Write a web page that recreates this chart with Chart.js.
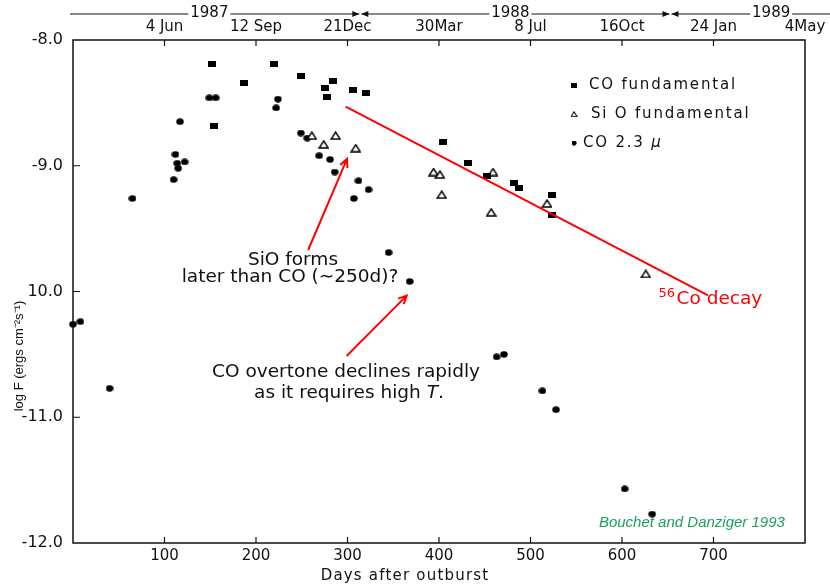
<!DOCTYPE html>
<html>
<head>
<meta charset="utf-8">
<script src="https://cdn.jsdelivr.net/npm/chart.js@4.4.0/dist/chart.umd.min.js"></script>
<style>
  html, body { margin: 0; padding: 0; background: #fff; }
  #wrap { width: 830px; height: 585px; }
</style>
</head>
<body>
<div id="wrap"><canvas id="chart" width="830" height="585"></canvas></div>
<script>
// ---- data (days after outburst, log F) ----
const coFundDays = [152, 154, 187, 220, 249, 275, 278, 284, 306, 320, 404, 432, 453, 482, 487, 524, 524];
const coFundLogF = [-8.19, -8.68, -8.34, -8.19, -8.29, -8.38, -8.45, -8.33, -8.40, -8.42, -8.81, -8.98, -9.08, -9.14, -9.18, -9.23, -9.39];

const sioDays = [261, 274, 287, 309, 394, 401, 403, 457, 459, 518, 626];
const sioLogF = [-8.76, -8.83, -8.76, -8.86, -9.05, -9.07, -9.23, -9.37, -9.05, -9.30, -9.86];

const co23Days = [0, 8, 40, 65, 110, 112, 114, 115, 122, 117, 149, 156, 224, 222, 249, 256, 269, 281, 286, 312, 307, 323, 345, 368, 463, 471, 513, 528, 603, 633];
const co23LogF = [-10.26, -10.24, -10.77, -9.26, -9.11, -8.91, -8.98, -9.02, -8.97, -8.65, -8.46, -8.46, -8.47, -8.54, -8.74, -8.78, -8.92, -8.95, -9.05, -9.12, -9.26, -9.19, -9.69, -9.92, -10.52, -10.50, -10.79, -10.94, -11.57, -11.77];

const decayDays = [298, 694];
const decayLogF = [-8.53, -10.03];

// ---- axes ----
const xTickDays = [100, 200, 300, 400, 500, 600, 700];
const topTickDays = [100, 200, 300, 400, 500, 600, 700, 800];
const topTickLabels = ["4 Jun", "12 Sep", "21Dec", "30Mar", "8 Jul", "16Oct", "24 Jan", "4May"];
const yearLabels = ["1987", "1988", "1989"];
const yearLabelDays = [149, 478, 763];
const yearBreakDays = [314, 653];
const yTickValues = [-8, -9, -10, -11, -12];
const yTickLabels = ["-8.0", "-9.0", "10.0", "-11.0", "-12.0"];

const FONT = '"DejaVu Sans"';
const ANNO_FONT = '"DejaVu Sans"';

function pts(xs, ys) {
  return xs.map((x, i) => ({ x: x, y: ys[i] }));
}

function marker(w, h, draw) {
  const c = document.createElement("canvas");
  c.width = w;
  c.height = h;
  draw(c.getContext("2d"), w, h);
  return c;
}

const squareImg = marker(8, 6, (g, w, h) => {
  g.fillStyle = "#000";
  g.fillRect(0, 0, w, h);
});
const dotImg = marker(8, 7, (g) => {
  g.fillStyle = "#000";
  g.beginPath();
  g.ellipse(4, 3.5, 3.7, 3.2, 0, 0, Math.PI * 2);
  g.fill();
});
const triImg = marker(11, 9, (g) => {
  g.strokeStyle = "#000";
  g.fillStyle = "#fff";
  g.lineWidth = 1.4;
  g.beginPath();
  g.moveTo(5.5, 1);
  g.lineTo(10, 8);
  g.lineTo(1, 8);
  g.closePath();
  g.fill();
  g.stroke();
});

// annotations, in data coordinates
const arrows = [
  { from: [257, -9.67], to: [299.5, -8.946] },
  { from: [299, -10.513], to: [364.7, -10.033] },
];

function arrow(ctx, x1, y1, x2, y2) {
  const ang = Math.atan2(y2 - y1, x2 - x1);
  const L = 9;
  ctx.beginPath();
  ctx.moveTo(x1, y1);
  ctx.lineTo(x2, y2);
  ctx.moveTo(x2 - L * Math.cos(ang - 0.45), y2 - L * Math.sin(ang - 0.45));
  ctx.lineTo(x2, y2);
  ctx.lineTo(x2 - L * Math.cos(ang + 0.45), y2 - L * Math.sin(ang + 0.45));
  ctx.stroke();
}

function headRight(ctx, x, y) {
  ctx.beginPath();
  ctx.moveTo(x, y);
  ctx.lineTo(x - 7, y - 3);
  ctx.lineTo(x - 7, y + 3);
  ctx.closePath();
  ctx.fill();
}
function headLeft(ctx, x, y) {
  ctx.beginPath();
  ctx.moveTo(x, y);
  ctx.lineTo(x + 7, y - 3);
  ctx.lineTo(x + 7, y + 3);
  ctx.closePath();
  ctx.fill();
}

const decoPlugin = {
  id: "deco",
  afterDraw(chart) {
    const { ctx, chartArea: a, scales } = chart;
    const xs = scales.x, ys = scales.y;
    const px = (d) => xs.getPixelForValue(d);
    const py = (v) => ys.getPixelForValue(v);
    ctx.save();

    // frame + inward ticks
    ctx.strokeStyle = "#111";
    ctx.lineWidth = 1.5;
    ctx.strokeRect(a.left, a.top, a.right - a.left, a.bottom - a.top);
    ctx.lineWidth = 1.2;
    ctx.beginPath();
    xTickDays.forEach((d) => {
      ctx.moveTo(px(d), a.bottom);
      ctx.lineTo(px(d), a.bottom - 6);
    });
    topTickDays.slice(0, -1).forEach((d) => {
      ctx.moveTo(px(d), a.top);
      ctx.lineTo(px(d), a.top + 6);
    });
    yTickValues.slice(1, -1).forEach((v) => {
      ctx.moveTo(a.left, py(v));
      ctx.lineTo(a.left + 7, py(v));
    });
    ctx.stroke();

    // year row with arrows
    const yy = 13;
    ctx.fillStyle = "#111";
    ctx.font = "15px " + FONT;
    ctx.textAlign = "center";
    ctx.textBaseline = "middle";
    ctx.lineWidth = 1;
    const breaks = yearBreakDays.map(px);
    let start = a.left - 3;
    yearLabels.forEach((t, i) => {
      const cx = px(yearLabelDays[i]);
      const w = ctx.measureText(t).width;
      ctx.fillText(t, cx, yy);
      const end = i < breaks.length ? breaks[i] - 1 : chart.width;
      ctx.beginPath();
      ctx.moveTo(start, yy + 1);
      ctx.lineTo(cx - w / 2 - 2, yy + 1);
      ctx.moveTo(cx + w / 2 + 2, yy + 1);
      ctx.lineTo(end, yy + 1);
      ctx.stroke();
      if (i < breaks.length) {
        headRight(ctx, breaks[i] - 1, yy + 1);
        headLeft(ctx, breaks[i] + 1, yy + 1);
        start = breaks[i] + 1;
      }
    });

    // axis titles
    ctx.font = "15px " + FONT;
    ctx.letterSpacing = "1.2px";
    ctx.fillText("Days after outburst", 405, 576);
    ctx.letterSpacing = "0px";
    ctx.save();
    ctx.translate(19, 356);
    ctx.rotate(-Math.PI / 2);
    ctx.font = '13px "Liberation Sans"';
    ctx.fillText("log F (ergs cm\u207B\u00B2s\u207B\u00B9)", 0, 0);
    ctx.restore();

    // legend
    const legend = [
      { img: squareImg, w: 6, h: 5, mx: 574, tx: 589, label: "CO fundamental" },
      { img: triImg, w: 7, h: 6, mx: 574, tx: 591, label: "Si O fundamental" },
      { img: dotImg, w: 5, h: 5, mx: 574, tx: 583, label: "CO 2.3 " },
    ];
    ctx.textAlign = "left";
    ctx.font = "15px " + FONT;
    ctx.letterSpacing = "1.8px";
    legend.forEach((it, i) => {
      const ly = 85 + i * 29;
      ctx.drawImage(it.img, it.mx - it.w / 2, ly - it.h / 2, it.w, it.h);
      ctx.fillText(it.label, it.tx, ly);
      if (i === 2) {
        const w = ctx.measureText(it.label).width;
        ctx.font = "italic 15px " + FONT;
        ctx.fillText("\u03BC", it.tx + w, ly);
        ctx.font = "15px " + FONT;
      }
    });
    ctx.letterSpacing = "0px";

    // red arrows and notes
    ctx.strokeStyle = "#ff0000";
    ctx.lineWidth = 2;
    arrows.forEach((ar) => arrow(ctx, px(ar.from[0]), py(ar.from[1]), px(ar.to[0]), py(ar.to[1])));

    ctx.fillStyle = "#111";
    ctx.textBaseline = "alphabetic";
    ctx.textAlign = "center";
    ctx.font = "18.5px " + ANNO_FONT;
    ctx.fillText("SiO forms", px(240.4), py(-9.789));
    ctx.fillText("later than CO (\u223C250d)?", px(237.2), py(-9.924));
    ctx.fillText("CO overtone declines rapidly", px(298.4), py(-10.68));
    const l2a = "as it requires high ", l2b = "T", l2c = ".";
    ctx.textAlign = "left";
    const wa = ctx.measureText(l2a).width, wc = ctx.measureText(l2c).width;
    ctx.font = "italic 18.5px " + ANNO_FONT;
    const wb = ctx.measureText(l2b).width;
    let lx = px(301.6) - (wa + wb + wc) / 2;
    const ly2 = py(-10.847);
    ctx.font = "18.5px " + ANNO_FONT;
    ctx.fillText(l2a, lx, ly2);
    ctx.font = "italic 18.5px " + ANNO_FONT;
    ctx.fillText(l2b, lx + wa, ly2);
    ctx.font = "18.5px " + ANNO_FONT;
    ctx.fillText(l2c, lx + wa + wb, ly2);

    // 56Co decay label
    ctx.fillStyle = "#ff0000";
    ctx.font = "13px " + ANNO_FONT;
    ctx.fillText("56", px(640), py(-10.097) - 7);
    ctx.font = "18.5px " + ANNO_FONT;
    ctx.fillText("Co decay", px(659.6), py(-10.097));

    // credit
    ctx.fillStyle = "#19a15c";
    ctx.textAlign = "right";
    ctx.font = 'italic 15px "Liberation Sans"';
    ctx.fillText("Bouchet and Danziger 1993", px(778), py(-11.873));

    ctx.restore();
  },
};

const tickFont = { family: "DejaVu Sans", size: 15 };

new Chart(document.getElementById("chart"), {
  type: "scatter",
  data: {
    datasets: [
      {
        label: "56Co decay",
        type: "line",
        data: pts(decayDays, decayLogF),
        borderColor: "#ff0000",
        borderWidth: 2,
        pointRadius: 0,
        fill: false,
        order: 0,
      },
      {
        label: "CO fundamental",
        data: pts(coFundDays, coFundLogF),
        pointStyle: squareImg,
        clip: false,
        order: 1,
      },
      {
        label: "Si O fundamental",
        data: pts(sioDays, sioLogF),
        pointStyle: triImg,
        clip: false,
        order: 2,
      },
      {
        label: "CO 2.3 \u03BC",
        data: pts(co23Days, co23LogF),
        pointStyle: dotImg,
        clip: false,
        order: 3,
      },
    ],
  },
  options: {
    responsive: false,
    animation: false,
    events: [],
    layout: { padding: { right: 25 } },
    plugins: { legend: { display: false }, tooltip: { enabled: false } },
    scales: {
      x: {
        type: "linear",
        position: "bottom",
        min: 0,
        max: 800,
        afterBuildTicks: (s) => { s.ticks = xTickDays.map((v) => ({ value: v })); },
        afterFit: (s) => { s.height = 42; },
        grid: { display: false, drawTicks: false },
        border: { display: false },
        ticks: { font: tickFont, color: "#111", padding: 4, maxRotation: 0, autoSkip: false },
      },
      x2: {
        type: "linear",
        position: "top",
        min: 0,
        max: 800,
        afterBuildTicks: (s) => { s.ticks = topTickDays.map((v) => ({ value: v })); },
        afterFit: (s) => { s.height = 40; },
        grid: { display: false, drawTicks: false },
        border: { display: false },
        ticks: {
          font: { family: "DejaVu Sans", size: 15 },
          color: "#111",
          padding: 4,
          maxRotation: 0,
          autoSkip: false,
          callback: (v) => topTickLabels[topTickDays.indexOf(v)],
        },
      },
      y: {
        type: "linear",
        min: -12,
        max: -8,
        afterBuildTicks: (s) => { s.ticks = yTickValues.map((v) => ({ value: v })); },
        afterFit: (s) => { s.width = 73; },
        grid: { display: false, drawTicks: false },
        border: { display: false },
        ticks: {
          font: { family: "DejaVu Sans", size: 16 },
          color: "#111",
          padding: 10,
          callback: (v) => yTickLabels[yTickValues.indexOf(v)],
        },
      },
    },
  },
  plugins: [decoPlugin],
});
</script>
</body>
</html>
